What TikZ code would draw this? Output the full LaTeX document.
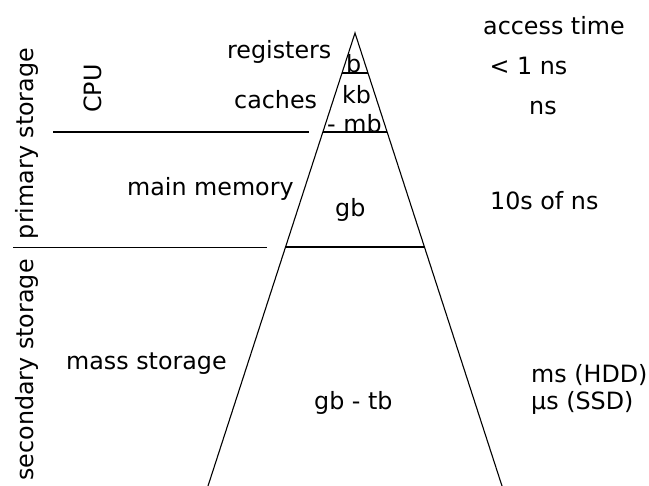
\documentclass[tikz,border=0pt]{standalone}
\usepackage{fontspec}
\setmainfont{DejaVu Sans}
\usetikzlibrary{calc}
\begin{document}
\begin{tikzpicture}[x=1pt,y=-1pt,
  rule/.style={line width=1.1pt,black},
  lbl/.style={inner sep=0pt,anchor=base west,font=\fontsize{23.8}{28}\selectfont},
  vlbl/.style={inner sep=0pt,anchor=base,rotate=90,font=\fontsize{23.8}{28}\selectfont}]
\useasboundingbox (0,0) rectangle (649,486);

% pyramid outline
\coordinate (apex) at (355,33);
\coordinate (bl) at (208,486);
\coordinate (br) at (502,486);
\draw[rule] (bl) -- (apex) -- (br);

% level boundaries inside the pyramid
\draw[rule] ($(apex)!0.0883!(bl)$) -- ($(apex)!0.0883!(br)$);
\draw[rule] ($(apex)!0.2185!(bl)$) -- ($(apex)!0.2185!(br)$);
\draw[rule] ($(apex)!0.4724!(bl)$) -- ($(apex)!0.4724!(br)$);

% separators on the left
\coordinate (cpuL) at (53,132);
\coordinate (cpuR) at (309,132);
\coordinate (priL) at (13,247.5);
\coordinate (priR) at (267,247.5);
\draw[rule] (cpuL) -- (cpuR);
\draw[rule] (priL) -- (priR);

% level names
\node[lbl] (reg) at (227,59) {registers};
\node[lbl] (cache) at (234,109) {caches};
\node[lbl] (mainmem) at (127,196) {main memory};
\node[lbl] (mass) at (66,369.5) {mass storage};

% sizes
\node[lbl] (szb) at (346,73) {b};
\node[lbl] (szkb) at (342,103.5) {kb};
\node[lbl] (szmb) at (327,132.5) {- mb};
\node[lbl] (szgb) at (335,217) {gb};
\node[lbl] (sztb) at (314,410) {gb - tb};

% access times
\node[lbl] (acc) at (483,35) {access time};
\node[lbl] (t1) at (489.5,75) {< 1 ns};
\node[lbl] (t2) at (529,115) {ns};
\node[lbl] (t3) at (490,210) {10s of ns};
\node[lbl] (t4) at (531,383) {ms (HDD)};
\node[lbl] (t5) at (531,410) {µs (SSD)};

% vertical group labels
\node[vlbl] (cpu) at (101,88.5) {CPU};
\node[vlbl] (prim) at (34,143.5) {primary storage};
\node[vlbl] (sec) at (34,370) {secondary storage};
\end{tikzpicture}
\end{document}
